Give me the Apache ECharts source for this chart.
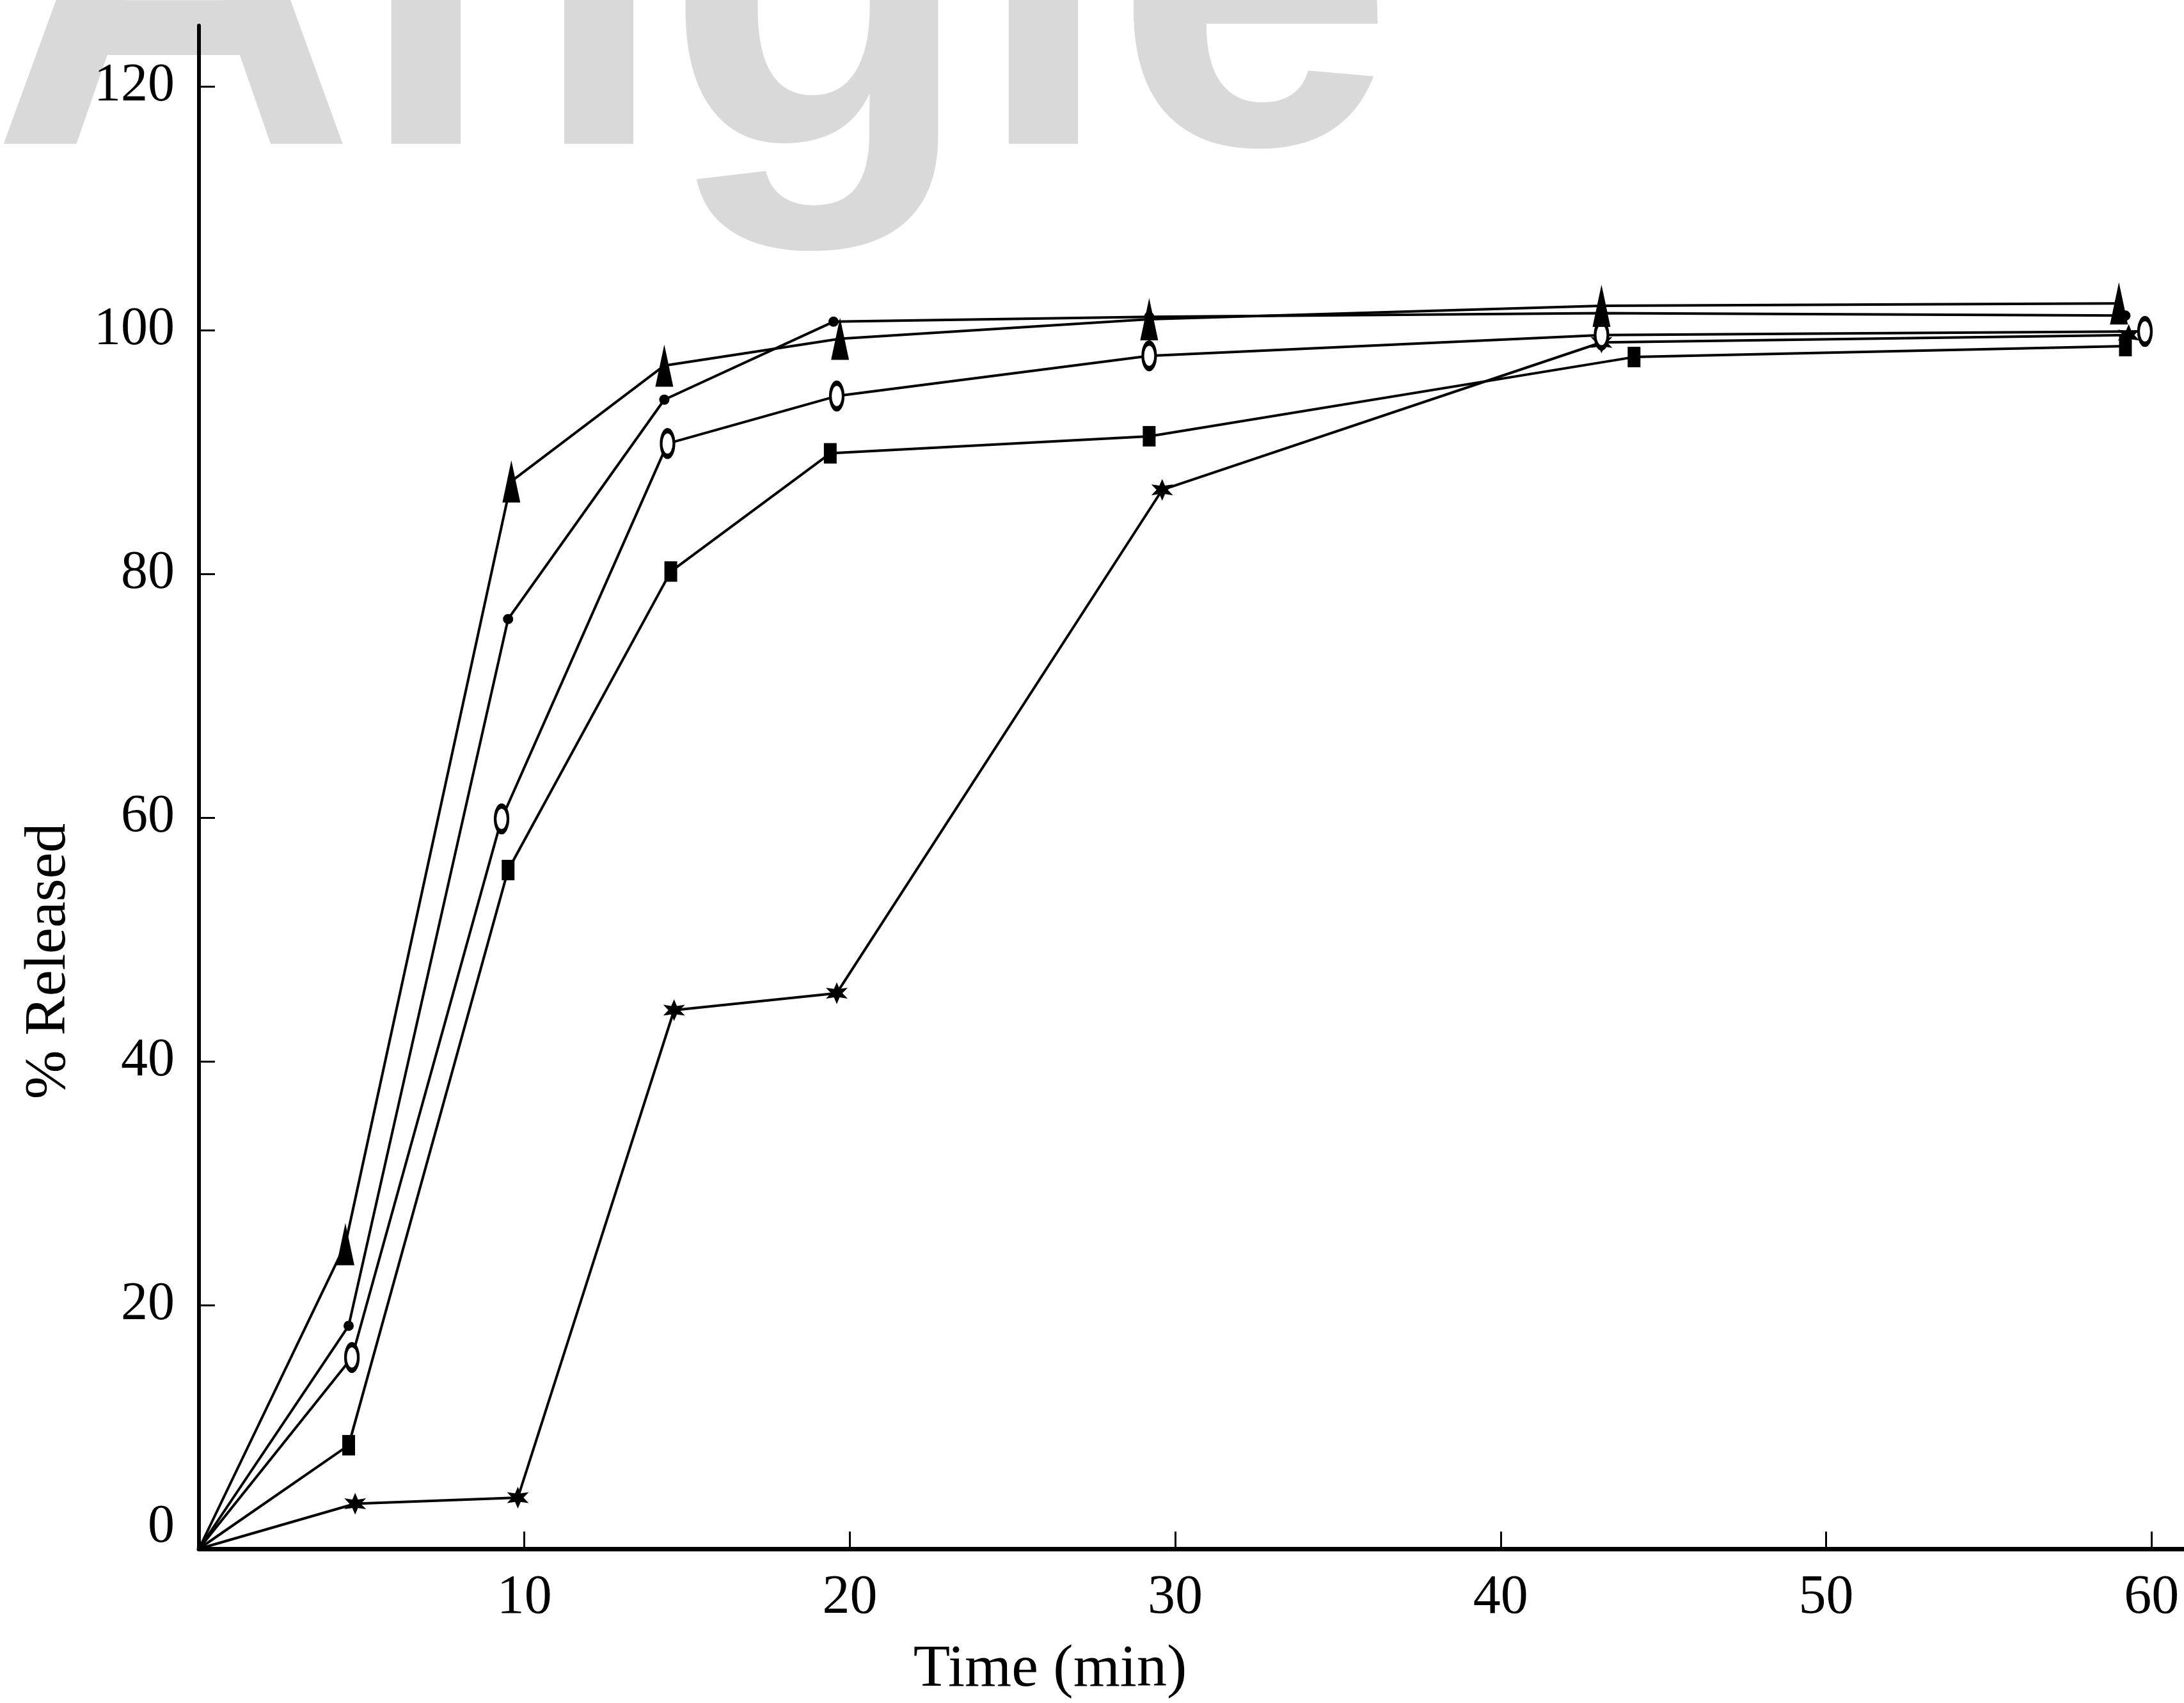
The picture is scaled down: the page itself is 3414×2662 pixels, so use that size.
<!DOCTYPE html>
<html>
<head>
<meta charset="utf-8">
<script src="https://cdn.jsdelivr.net/npm/echarts@6/dist/echarts.min.js"></script>
<style>
  html, body { margin: 0; padding: 0; background: #fff; }
  #chart { width: 3414px; height: 2662px; }
</style>
</head>
<body>
<div id="chart"></div>
<script>
// tick labels
const yTicks = [0, 20, 40, 60, 80, 100, 120];
const xTicks = [10, 20, 30, 40, 50, 60];

// [time (min), % released]
const triangleData = [[0, 0], [4.5, 25], [9.6, 87.6], [14.3, 97.1], [19.7, 99.3], [29.2, 100.9], [43.1, 102], [59, 102.2]];
const dotData = [[0, 0], [4.6, 18.3], [9.5, 76.3], [14.3, 94.3], [19.5, 100.7], [29.2, 101.1], [43.1, 101.4], [59.2, 101.2]];
const ringData = [[0, 0], [4.7, 15.7], [9.3, 59.9], [14.4, 90.7], [19.6, 94.6], [29.2, 97.9], [43.1, 99.6], [59.8, 99.9]];
const squareData = [[0, 0], [4.6, 8.5], [9.5, 55.7], [14.5, 80.2], [19.4, 89.9], [29.2, 91.3], [44.1, 97.8], [59.2, 98.7]];
const starData = [[0, 0], [4.8, 3.7], [9.8, 4.2], [14.6, 44.2], [19.6, 45.6], [29.6, 86.9], [43.1, 99.0], [59.3, 99.6]];

const starPath = 'path://M10 0 L12.25 6.1 L18.66 5 L14.5 10 L18.66 15 L12.25 13.9 L10 20 L7.75 13.9 L1.34 15 L5.5 10 L1.34 5 L7.75 6.1 Z';

function line(data, symbol, size, extra) {
    return Object.assign({
        type: 'line',
        // no marker at the origin
        data: data.map((p, i) => i === 0 ? { value: p, symbol: 'none' } : p),
        symbol: symbol,
        symbolSize: size,
        showSymbol: true,
        lineStyle: { color: '#000', width: 4 },
        itemStyle: { color: '#000' },
        emphasis: { disabled: true },
        animation: false
    }, extra || {});
}

const myChart = echarts.init(document.getElementById('chart'));
myChart.setOption({
    backgroundColor: '#fff',
    textStyle: { fontFamily: '"Liberation Serif", "DejaVu Serif", serif', color: '#000' },
    graphic: [{
        type: 'text',
        left: -14,
        top: -388,
        z: -100,
        silent: true,
        style: {
            text: 'Angle',
            font: 'bold 790px "Liberation Sans", Arial, sans-serif',
            fill: '#d9d9d9'
        }
    }],
    grid: {
        left: 311,
        right: 0,
        top: 40,
        bottom: 241,
        outerBoundsMode: 'none'
    },
    xAxis: {
        type: 'value',
        min: 0,
        max: 61,
        name: 'Time (min)',
        nameLocation: 'middle',
        nameGap: 142,
        nameTextStyle: {
            fontSize: 94,
            fontFamily: '"Liberation Serif", serif',
            color: '#000',
            padding: [0, 442, 0, 0]
        },
        axisLine: { show: true, lineStyle: { color: '#000', width: 7 } },
        axisTick: {
            show: true,
            inside: true,
            length: 27,
            customValues: xTicks,
            lineStyle: { color: '#000', width: 3 }
        },
        axisLabel: {
            customValues: xTicks,
            fontSize: 86,
            margin: 34,
            color: '#000',
            fontFamily: '"Liberation Serif", serif'
        },
        splitLine: { show: false }
    },
    yAxis: {
        type: 'value',
        min: 0,
        max: 125,
        name: '% Released',
        nameLocation: 'middle',
        nameGap: 188,
        nameRotate: 90,
        nameTextStyle: {
            fontSize: 92,
            fontFamily: '"Liberation Serif", serif',
            color: '#000',
            padding: [0, 544, 0, 0]
        },
        axisLine: { show: true, lineStyle: { color: '#000', width: 6 } },
        axisTick: {
            show: true,
            inside: true,
            length: 25,
            customValues: yTicks,
            lineStyle: { color: '#000', width: 3 }
        },
        axisLabel: {
            customValues: yTicks,
            fontSize: 84,
            margin: 38,
            color: '#000',
            fontFamily: '"Liberation Serif", serif',
            formatter(val) {
                // the 0 sits a little above the axis in the scan
                return val === 0 ? '{z|0}' : String(val);
            },
            rich: {
                z: { fontSize: 84, padding: [0, 0, 66, 0], fontFamily: '"Liberation Serif", serif', color: '#000' }
            }
        },
        splitLine: { show: false }
    },
    series: [
        line(starData, starPath, 34),
        line(squareData, 'rect', [20, 32]),
        line(ringData, 'circle', [20, 40], { itemStyle: { color: '#fff', borderColor: '#000', borderWidth: 6 } }),
        line(dotData, 'circle', 16),
        line(triangleData, 'triangle', [28, 66])
    ]
});
</script>
</body>
</html>
